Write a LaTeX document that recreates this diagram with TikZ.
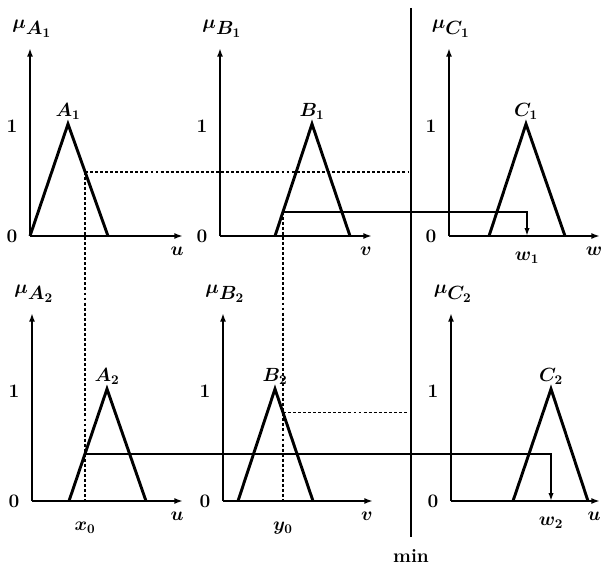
\documentclass[tikz,border=0pt]{standalone}
\usepackage{amsmath,amssymb}
\usepackage{xcolor}
\usetikzlibrary{arrows.meta, positioning, calc}

\begin{document}
\begin{tikzpicture}[
  x=0.0265cm, y=-0.0265cm,
  font=\Large\bfseries\boldmath,
  axis/.style={line width=1.5pt, -{Latex[length=6.5pt,width=4.5pt]}},
  memb/.style={line width=2.2pt, line join=miter},
  proj/.style={line width=1.4pt, dash pattern=on 2.2pt off 1.6pt},
  cutarr/.style={line width=1.2pt, -{Latex[length=6pt,width=4pt]}},
  minline/.style={line width=1.5pt},
  node distance=0pt
]
  \useasboundingbox (0,0) rectangle (601,570);

  % six membership panels: name/origin/x-end/triangle/set/variable
  \foreach \p/\ox/\oy/\xe/\l/\m/\r/\s/\v in {
      a1/30/236/183/30/68/108/A_1/u,
      b1/220/236/372/275/312/350/B_1/v,
      c1/449/236/600/489/526/565/C_1/w,
      a2/32/501/183/69/107/146/A_2/u,
      b2/223/501/373/238/275/313/B_2/v,
      c2/451/501/600/513/551/588/C_2/u}{
    \coordinate (\p o) at (\ox,\oy);
    \coordinate (\p l) at (\l,\oy);
    \coordinate (\p t) at (\m,\oy-112);
    \coordinate (\p r) at (\r,\oy);
    \draw[axis] (\p o) -- ++(0,-188) coordinate (\p y);
    \draw[axis] (\p o) -- (\xe,\oy) coordinate (\p x);
    \draw[memb] (\p l) -- (\p t) -- (\p r);
    \node (\p mu) at ($(\p y)+(2,-19)$) {$\mu_{\textstyle\s}$};
    \node[above=of \p t] (\p name) {$\s$};
    \node (\p one) at (\ox-18,\oy-110) {1};
    \node (\p zero) at (\ox-18,\oy) {0};
    \node (\p var) at (\xe-6,\oy+15) {$\v$};
  }

  % crisp inputs on the membership functions
  \coordinate (pa1) at ($(a1t)!0.425!(a1r)$);
  \coordinate (pa2) at ($(a2l)!0.421!(a2t)$);
  \coordinate (pb1) at ($(b1l)!0.216!(b1t)$);
  \coordinate (pb2) at ($(b2t)!0.21!(b2r)$);
  \coordinate (w1) at (527,236);
  \coordinate (w2) at (551,501);

  % min separator
  \coordinate (mintop) at (411,8);
  \coordinate (minbot) at (411,537);
  \draw[minline] (mintop) -- (minbot);
  \node (minlab) at ($(minbot)+(0,19)$) {min};

  \draw[proj] (pa1) -- (pa1 |- a2o);
  \draw[proj] (pb1) -- (pb1 |- b2o);
  \draw[proj, shorten >=2pt] (pa1) -- (pa1 -| mintop);
  \draw[proj, shorten >=2pt] (pb2) -- (pb2 -| mintop);

  \draw[cutarr] (pb1) -| (w1);
  \draw[cutarr] (pa2) -| (w2);

  \node (x0) at ($(pa1 |- a2o)+(0,27)$) {$x_0$};
  \node (y0) at ($(pb1 |- b2o)+(0,27)$) {$y_0$};
  \node (w1lab) at ($(w1)+(0,22)$) {$w_1$};
  \node (w2lab) at ($(w2)+(0,22)$) {$w_2$};
\end{tikzpicture}
\end{document}
